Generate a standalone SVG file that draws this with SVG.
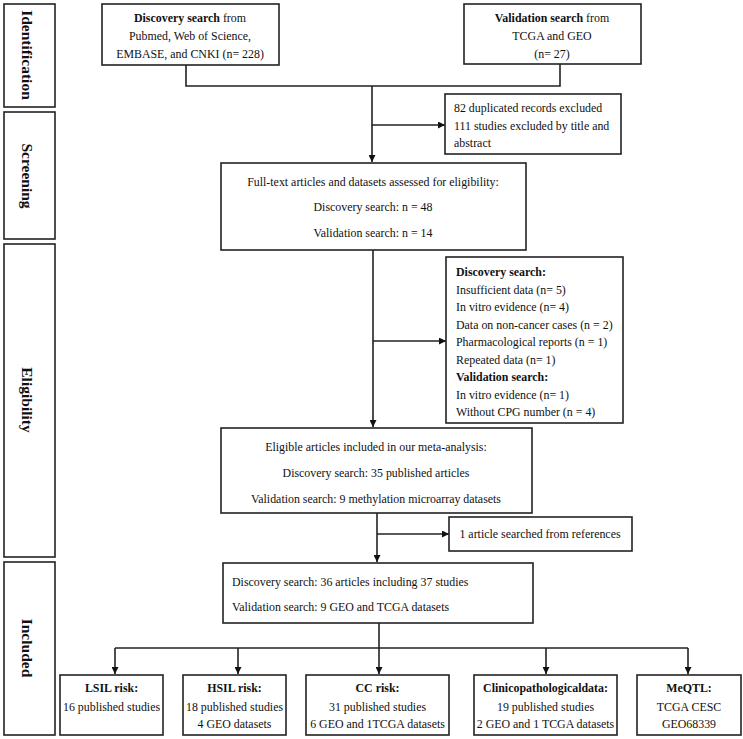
<svg xmlns="http://www.w3.org/2000/svg" width="743" height="739" viewBox="0 0 743 739">
<defs>
<style>
.box{fill:#fff;stroke:#222;stroke-width:1.6}
.t{font-family:"Liberation Serif","Times New Roman",serif;font-size:11.9px;fill:#111}
.c{text-anchor:middle}
.b{font-weight:bold}
.stage{font-family:"Liberation Serif","Times New Roman",serif;font-size:15.5px;font-weight:bold;fill:#111;text-anchor:middle}
.ln{fill:none;stroke:#222;stroke-width:1.6}
</style>
<marker id="ah" viewBox="0 0 10 10" refX="10" refY="5" markerWidth="7" markerHeight="7" markerUnits="userSpaceOnUse" orient="auto">
<path d="M0,0 L10,5 L0,10 z" fill="#111"/>
</marker>
</defs>
<rect width="743" height="739" fill="#fff"/>

<g id="stage-identification">
<rect class="box" x="4" y="4" width="51" height="103"/>
<text class="stage" transform="translate(22,55) rotate(90)">Identification</text>
</g>
<g id="stage-screening">
<rect class="box" x="4" y="112" width="51" height="127"/>
<text class="stage" transform="translate(22,176) rotate(90)">Screening</text>
</g>
<g id="stage-eligibility">
<rect class="box" x="4" y="244" width="51" height="313"/>
<text class="stage" transform="translate(22,400) rotate(90)">Eligibility</text>
</g>
<g id="stage-included">
<rect class="box" x="4" y="562" width="51" height="173"/>
<text class="stage" transform="translate(22,648) rotate(90)">Included</text>
</g>

<g id="connectors">
<polyline class="ln" points="186,65 186,86 560,86 560,64"/>
<line class="ln" x1="372" y1="86" x2="372" y2="162" marker-end="url(#ah)"/>
<line class="ln" x1="372" y1="125" x2="445" y2="125" marker-end="url(#ah)"/>
<line class="ln" x1="373" y1="250" x2="373" y2="427" marker-end="url(#ah)"/>
<line class="ln" x1="373" y1="341" x2="446" y2="341" marker-end="url(#ah)"/>
<line class="ln" x1="377" y1="513" x2="377" y2="562" marker-end="url(#ah)"/>
<line class="ln" x1="377" y1="534" x2="449" y2="534" marker-end="url(#ah)"/>
<line class="ln" x1="379" y1="623" x2="379" y2="648"/>
<line class="ln" x1="115" y1="648" x2="688" y2="648"/>
<line class="ln" x1="115" y1="648" x2="115" y2="674" marker-end="url(#ah)"/>
<line class="ln" x1="238" y1="648" x2="238" y2="674" marker-end="url(#ah)"/>
<line class="ln" x1="379" y1="648" x2="379" y2="674" marker-end="url(#ah)"/>
<line class="ln" x1="546" y1="648" x2="546" y2="674" marker-end="url(#ah)"/>
<line class="ln" x1="688" y1="648" x2="688" y2="674" marker-end="url(#ah)"/>
</g>

<g id="discovery">
<rect class="box" x="102" y="4" width="177" height="61"/>
<text class="t c" x="190" y="22"><tspan class="b">Discovery search</tspan> from</text>
<text class="t c" x="190" y="40">Pubmed, Web of Science,</text>
<text class="t c" x="190" y="58">EMBASE, and CNKI (n= 228)</text>
</g>
<g id="validation">
<rect class="box" x="464" y="4" width="177" height="60"/>
<text class="t c" x="552" y="22"><tspan class="b">Validation search</tspan> from</text>
<text class="t c" x="552" y="40">TCGA and GEO</text>
<text class="t c" x="552" y="58">(n= 27)</text>
</g>
<g id="excluded1">
<rect class="box" x="445" y="94" width="176" height="60"/>
<text class="t" x="454" y="112">82 duplicated records excluded</text>
<text class="t" x="454" y="130">111 studies excluded by title and</text>
<text class="t" x="454" y="147">abstract</text>
</g>
<g id="fulltext">
<rect class="box" x="221" y="163" width="305" height="87"/>
<text class="t c" x="373" y="186">Full-text articles and datasets assessed for eligibility:</text>
<text class="t c" x="373" y="211">Discovery search: n = 48</text>
<text class="t c" x="373" y="237">Validation search: n = 14</text>
</g>
<g id="excluded2">
<rect class="box" x="446" y="257" width="177" height="166"/>
<text class="t b" x="456" y="276">Discovery search:</text>
<text class="t" x="456" y="293.5">Insufficient data (n= 5)</text>
<text class="t" x="456" y="311">In vitro evidence (n= 4)</text>
<text class="t" x="456" y="328.5">Data on non-cancer cases (n = 2)</text>
<text class="t" x="456" y="346">Pharmacological reports (n = 1)</text>
<text class="t" x="456" y="363.5">Repeated data (n= 1)</text>
<text class="t b" x="456" y="381">Validation search:</text>
<text class="t" x="456" y="398.5">In vitro evidence (n= 1)</text>
<text class="t" x="456" y="416">Without CPG number (n = 4)</text>
</g>
<g id="eligible">
<rect class="box" x="221" y="428" width="311" height="85"/>
<text class="t c" x="376" y="451">Eligible articles included in our meta-analysis:</text>
<text class="t c" x="376" y="477">Discovery search: 35 published articles</text>
<text class="t c" x="376" y="503">Validation search: 9 methylation microarray datasets</text>
</g>
<g id="references">
<rect class="box" x="449" y="517" width="183" height="34"/>
<text class="t c" x="540" y="538">1 article searched from references</text>
</g>
<g id="included">
<rect class="box" x="223" y="563" width="310" height="60"/>
<text class="t" x="232" y="586">Discovery search: 36 articles including 37 studies</text>
<text class="t" x="232" y="611">Validation search: 9 GEO and TCGA datasets</text>
</g>
<g id="lsil">
<rect class="box" x="60" y="675" width="103" height="60"/>
<text class="t c b" x="111.5" y="692">LSIL risk:</text>
<text class="t c" x="111.5" y="711">16 published studies</text>
</g>
<g id="hsil">
<rect class="box" x="183" y="675" width="103" height="60"/>
<text class="t c b" x="234.5" y="692">HSIL risk:</text>
<text class="t c" x="234.5" y="711">18 published studies</text>
<text class="t c" x="234.5" y="728">4 GEO datasets</text>
</g>
<g id="cc">
<rect class="box" x="306" y="675" width="143" height="60"/>
<text class="t c b" x="377.5" y="692">CC risk:</text>
<text class="t c" x="377.5" y="711">31 published studies</text>
<text class="t c" x="377.5" y="728">6 GEO and 1TCGA datasets</text>
</g>
<g id="clinico">
<rect class="box" x="474" y="675" width="143" height="60"/>
<text class="t c b" x="545.5" y="692">Clinicopathologicaldata:</text>
<text class="t c" x="545.5" y="711">19 published studies</text>
<text class="t c" x="545.5" y="728">2 GEO and 1 TCGA datasets</text>
</g>
<g id="meqtl">
<rect class="box" x="637" y="675" width="104" height="60"/>
<text class="t c b" x="689" y="692">MeQTL:</text>
<text class="t c" x="689" y="711">TCGA CESC</text>
<text class="t c" x="689" y="728">GEO68339</text>
</g>
</svg>
